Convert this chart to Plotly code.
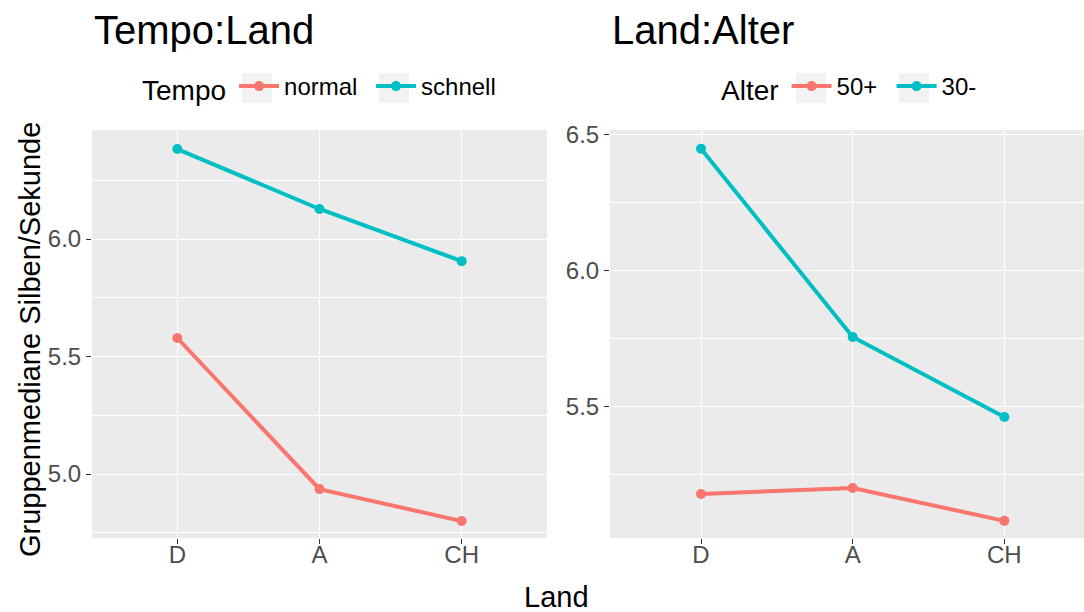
import plotly.graph_objects as go

# ---- data ----
land = ["D", "A", "CH"]
tempo_levels = ["normal", "schnell"]
tempo_normal = [5.579, 4.936, 4.800]
tempo_schnell = [6.383, 6.128, 5.906]
alter_levels = ["50+", "30-"]
alter_50 = [5.180, 5.202, 5.081]
alter_30 = [6.449, 5.757, 5.463]

RED = "#F8766D"
CYAN = "#00BFC4"
W, H = 1084, 612
FONT = "Liberation Sans, Arial, Helvetica, sans-serif"

def px(x):
    return x / W

def py(y):
    return 1 - y / H

fig = go.Figure()

for name, vals, col in [(tempo_levels[0], tempo_normal, RED), (tempo_levels[1], tempo_schnell, CYAN)]:
    fig.add_trace(go.Scatter(x=land, y=vals, mode="lines+markers", name=name,
                             line=dict(color=col, width=4), marker=dict(color=col, size=10),
                             xaxis="x", yaxis="y", legend="legend"))
for name, vals, col in [(alter_levels[0], alter_50, RED), (alter_levels[1], alter_30, CYAN)]:
    fig.add_trace(go.Scatter(x=land, y=vals, mode="lines+markers", name=name,
                             line=dict(color=col, width=4), marker=dict(color=col, size=10),
                             xaxis="x2", yaxis="y2", legend="legend2"))

ydom = [py(538), py(130)]
common_x = dict(type="category", categoryorder="array", categoryarray=land,
                showgrid=True, gridcolor="white", gridwidth=1.3, zeroline=False,
                ticks="outside", ticklen=5, tickwidth=1.2, tickcolor="#333333",
                tickfont=dict(size=24, color="#4d4d4d", family=FONT), showline=False,
                ticklabelstandoff=-10)
common_y = dict(showgrid=True, gridcolor="white", gridwidth=1.3, zeroline=False,
                ticks="outside", ticklen=5, tickwidth=1.2, tickcolor="#333333",
                tickfont=dict(size=24, color="#4d4d4d", family=FONT), showline=False,
                tickformat=".1f", dtick=0.5, tick0=0,
                minor=dict(dtick=0.25, tick0=0, showgrid=True, gridcolor="white", gridwidth=0.6, ticks=""))

fig.update_layout(
    width=W, height=H,
    margin=dict(l=0, r=0, t=0, b=0, pad=0, autoexpand=False),
    paper_bgcolor="white", plot_bgcolor="#EBEBEB",
    font=dict(family=FONT, color="black"),
    xaxis=dict(domain=[px(92), px(547)], range=[-0.6, 2.6], anchor="y", **common_x),
    yaxis=dict(domain=ydom, range=[4.728, 6.464], anchor="x", **common_y),
    xaxis2=dict(domain=[px(610), 1.0], range=[-0.6, 2.525], anchor="y2", **common_x),
    yaxis2=dict(domain=ydom, range=[5.018, 6.518], anchor="x2", **common_y),
    legend=dict(orientation="h", x=px(140), y=py(64), xanchor="left", yanchor="top",
                title=dict(text="Tempo", side="left", font=dict(size=28, color="black")),
                font=dict(size=24, color="black"), bgcolor="rgba(0,0,0,0)",
                itemwidth=40, entrywidth=82),
    legend2=dict(orientation="h", x=px(719), y=py(64), xanchor="left", yanchor="top",
                 title=dict(text="Alter", side="left", font=dict(size=28, color="black")),
                 font=dict(size=24, color="black"), bgcolor="rgba(0,0,0,0)",
                 itemwidth=40, entrywidth=50),
    showlegend=True,
)

# legend key backgrounds (ggplot grey95 key boxes)
for cx in [257, 394, 811, 914]:
    fig.add_shape(type="rect", xref="paper", yref="paper",
                  x0=px(cx - 15), x1=px(cx + 15), y0=py(103), y1=py(73),
                  fillcolor="#F2F2F2", line=dict(width=0), layer="below")

fig.add_annotation(text="Tempo:Land", x=px(92), y=py(30), xref="paper", yref="paper",
                   xanchor="left", yanchor="middle", showarrow=False,
                   font=dict(size=40, color="black", family=FONT))
fig.add_annotation(text="Land:Alter", x=px(610), y=py(30), xref="paper", yref="paper",
                   xanchor="left", yanchor="middle", showarrow=False,
                   font=dict(size=40, color="black", family=FONT))
fig.add_annotation(text="Gruppenmediane Silben/Sekunde", x=px(30), y=py(340), xref="paper", yref="paper",
                   xanchor="center", yanchor="middle", showarrow=False, textangle=-90,
                   font=dict(size=29, color="black", family=FONT))
fig.add_annotation(text="Land", x=px(556), y=py(597), xref="paper", yref="paper",
                   xanchor="center", yanchor="middle", showarrow=False,
                   font=dict(size=29, color="black", family=FONT))

fig.write_html("out.html", config={"displayModeBar": False},
               post_script="document.body.style.margin='0';document.body.style.padding='0';")
